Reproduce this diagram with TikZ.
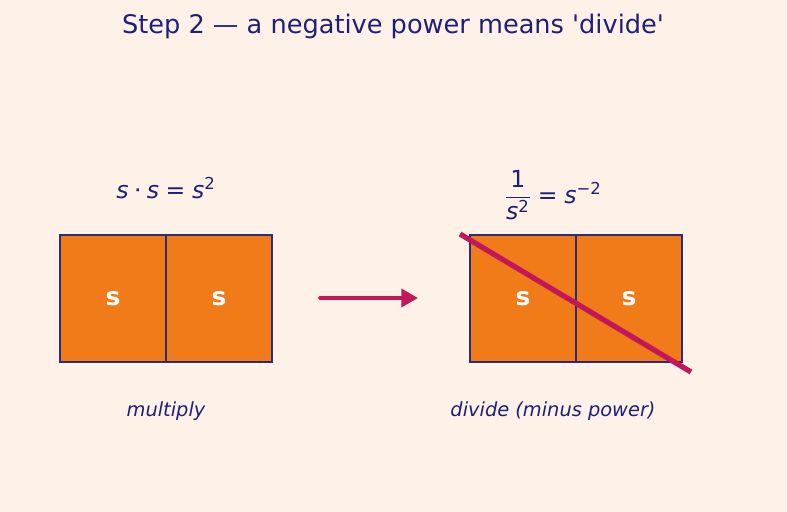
\documentclass[tikz,border=0pt]{standalone}
\usepackage{amsmath}
\usepackage{fontspec}
\setmainfont{DejaVu Sans}
\usepackage{tikz}
\usetikzlibrary{positioning,arrows.meta}

\definecolor{bgCream}{HTML}{FEF2E8}
\definecolor{inkNavy}{HTML}{1F1F78}
\definecolor{edgeNavy}{HTML}{2E2C75}
\definecolor{cellOrange}{HTML}{F07B18}
\definecolor{slashRed}{HTML}{C2185B}

\newcommand{\sv}{\text{\itshape s}}
\newlength{\pxu}
\setlength{\pxu}{0.01in}

\tikzset{
  cell/.style={draw=edgeNavy, line width=2.1pt, fill=cellOrange, text=white,
    minimum width=106\pxu, minimum height=127\pxu, inner sep=0pt, outer sep=0pt,
    font=\bfseries\fontsize{18}{20}\selectfont},
  formula/.style={text=inkNavy, font=\fontsize{17}{20}\selectfont},
  caption/.style={text=inkNavy, font=\itshape\fontsize{14}{16}\selectfont}
}

\begin{document}
\begin{tikzpicture}[x=0.01in, y=-0.01in, node distance=0pt]
  \fill[bgCream] (0,0) rectangle (787,512);
  \useasboundingbox (0,0) rectangle (787,512);

  \node[text=inkNavy, font=\fontsize{18.5}{22}\selectfont] (title) at (393,26)
    {Step 2 — a negative power means \textquotesingle divide\textquotesingle};

  % left pair: multiply
  \node[cell] (leftA) at (113,298.5) {s};
  \node[cell, right = of leftA] (leftB) {s};
  \node[formula] (leftFormula) at (166,188)
    {$\sv\mathbin{\text{·}}\sv\mathrel{\text{=}}\sv^{\text{2}}$};
  \node[caption] (leftCaption) at (166,411) {multiply};

  % right pair: divide
  \node[cell] (rightA) at (523,298.5) {s};
  \node[cell, right = of rightA] (rightB) {s};
  \node[formula] (rightFormula) at (553,195)
    {$\dfrac{\text{1}}{\sv^{\text{2}}}\mathrel{\text{=}}\sv^{\text{−2}}$};
  \node[caption] (rightCaption) at (553,411) {divide (minus power)};

  \coordinate (arrowStart) at (320,298);
  \coordinate (arrowEnd) at (418,298);
  \draw[slashRed, line width=2.6pt, line cap=round,
    -{Triangle[length=12pt,width=13pt]}] (arrowStart) -- (arrowEnd);

  \coordinate (slashStart) at (460,234);
  \coordinate (slashEnd) at (691,372);
  \draw[slashRed, line width=3.8pt] (slashStart) -- (slashEnd);
\end{tikzpicture}
\end{document}
